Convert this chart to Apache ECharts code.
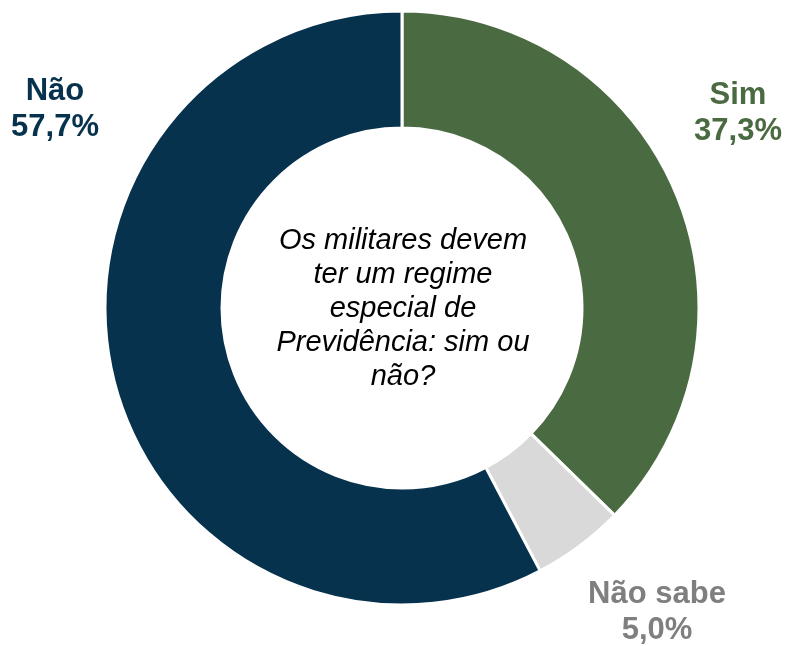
<!DOCTYPE html>
<html><head><meta charset="utf-8">
<script src="https://cdn.jsdelivr.net/npm/echarts@6/dist/echarts.min.js"></script>
<style>html,body{margin:0;padding:0;background:#fff}#c{width:786px;height:646px}</style>
</head><body><div id="c"></div>
<script>
const categories = ['Sim', 'Não sabe', 'Não'];
const values = [37.3, 5.0, 57.7];
const colors = ['#4a6a41', '#d9d9d9', '#06324d'];
const labelColors = ['#4a6a41', '#7f7f7f', '#06324d'];
const centerText = 'Os militares devem\nter um regime\nespecial de\nPrevidência: sim ou\nnão?';
const labelPos = [[738, 113], [657, 612], [55, 109]];

const chart = echarts.init(document.getElementById('c'));
chart.setOption({
  animation: false,
  graphic: [{
    type: 'text',
    style: {
      text: centerText, x: 403, y: 309, align: 'center', verticalAlign: 'middle',
      fontStyle: 'italic', fontSize: 29, fontFamily: 'Liberation Sans, Arial, sans-serif',
      lineHeight: 34, fill: '#000'
    }
  }],
  series: [{
    type: 'pie',
    center: [402, 308],
    radius: [180, 297],
    startAngle: 90,
    clockwise: true,
    itemStyle: { borderColor: '#fff', borderWidth: 3 },
    labelLine: { show: false },
    label: {
      show: true,
      position: 'outside',
      overflow: 'none',
      width: 200,
      formatter: p => p.name + '\n' + p.value.toFixed(1).replace('.', ',') + '%',
      fontFamily: 'Liberation Sans, Arial, sans-serif',
      fontWeight: 'bold', fontSize: 31, lineHeight: 36, align: 'center'
    },
    labelLayout: p => ({ x: labelPos[p.dataIndex][0], y: labelPos[p.dataIndex][1], align: 'center', verticalAlign: 'middle' }),
    data: categories.map((c, i) => ({
      name: c, value: values[i],
      itemStyle: { color: colors[i] },
      label: { color: labelColors[i] }
    }))
  }]
});
</script></body></html>
